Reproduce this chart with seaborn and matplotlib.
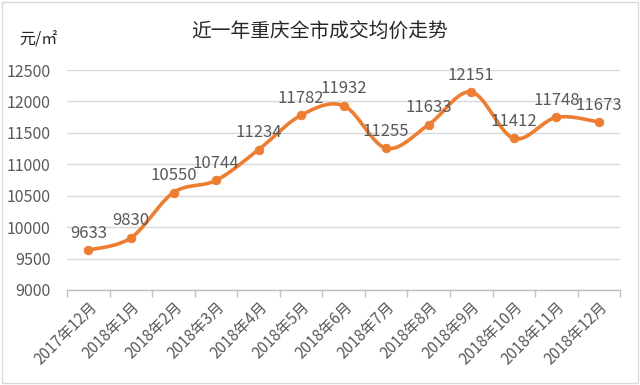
import numpy as np
import pandas as pd
import matplotlib.pyplot as plt
import seaborn as sns
from matplotlib.patches import Rectangle

months = ["2017年12月", "2018年1月", "2018年2月", "2018年3月", "2018年4月",
          "2018年5月", "2018年6月", "2018年7月", "2018年8月", "2018年9月",
          "2018年10月", "2018年11月", "2018年12月"]
prices = [9633, 9830, 10550, 10744, 11234, 11782, 11932,
          11255, 11633, 12151, 11412, 11748, 11673]
y_ticks = [9000, 9500, 10000, 10500, 11000, 11500, 12000, 12500]

ORANGE = "#ED7D31"
TEXT = "#595959"


def smooth_curve(xs, ys, steps=20):
    # Catmull-Rom style smoothing, like Excel's "smoothed line"
    xs = np.asarray(xs, float)
    ys = np.asarray(ys, float)
    px = np.concatenate([[xs[0]], xs, [xs[-1]]])
    py = np.concatenate([[ys[0]], ys, [ys[-1]]])
    out_x, out_y = [], []
    t = np.linspace(0, 1, steps, endpoint=False)
    for i in range(1, len(px) - 2):
        p0, p1, p2, p3 = [np.array([px[j], py[j]]) for j in (i - 1, i, i + 1, i + 2)]
        c1 = p1 + (p2 - p0) / 6
        c2 = p2 - (p3 - p1) / 6
        b = ((1 - t) ** 3)[:, None] * p1 + (3 * (1 - t) ** 2 * t)[:, None] * c1 \
            + (3 * (1 - t) * t ** 2)[:, None] * c2 + (t ** 3)[:, None] * p2
        out_x.extend(b[:, 0])
        out_y.extend(b[:, 1])
    out_x.append(xs[-1])
    out_y.append(ys[-1])
    return np.array(out_x), np.array(out_y)


sns.set_theme(style="white")
plt.rcParams["font.family"] = ["Noto Sans CJK SC", "DejaVu Sans"]

df = pd.DataFrame({"pos": np.arange(len(months)), "price": prices})
sx, sy = smooth_curve(df["pos"], df["price"])
curve = pd.DataFrame({"x": sx, "y": sy})

fig = plt.figure(figsize=(6.4, 3.85), dpi=100)
ax = fig.add_axes([0.105, 0.247, 0.864, 0.571])

for yt in y_ticks:
    ax.axhline(yt, color="#D9D9D9", linewidth=1, zorder=0)

sns.lineplot(data=curve, x="x", y="y", ax=ax, color=ORANGE, linewidth=2.6,
             sort=False, estimator=None, zorder=2)
sns.scatterplot(data=df, x="pos", y="price", ax=ax, color=ORANGE, s=40,
                edgecolor=ORANGE, zorder=3)

for x, y in zip(df["pos"], df["price"]):
    ax.annotate(str(y), (x, y), xytext=(0, 6), textcoords="offset points",
                ha="center", va="bottom", fontsize=12, color=TEXT)

ax.set_xlim(-0.5, len(months) - 0.5)
ax.set_ylim(9000, 12500)
ax.set_yticks(y_ticks)
ax.set_yticklabels([str(v) for v in y_ticks], fontsize=11.5, color=TEXT)
ax.set_xticks(df["pos"])
ax.set_xticklabels(months, rotation=45, ha="right", rotation_mode="anchor",
                   fontsize=11, color=TEXT)
ax.set_xticks(np.arange(-0.5, len(months)), minor=True)
ax.tick_params(axis="x", which="major", length=0, pad=6)
ax.tick_params(axis="x", which="minor", length=5, color="#BFBFBF", width=1,
               bottom=True)
ax.tick_params(axis="y", length=0, pad=12)
ax.set_xlabel("")
ax.set_ylabel("")

sns.despine(ax=ax, left=True)
ax.spines["bottom"].set_color("#BFBFBF")
ax.spines["bottom"].set_linewidth(1)

fig.text(0.5, 0.915, "近一年重庆全市成交均价走势", ha="center", va="center",
         fontsize=14.2, color="#262626")
fig.text(0.03, 0.895, "元/㎡", ha="left", va="center", fontsize=11.5, color="#262626")

fig.patches.append(Rectangle((0.003, 0.004), 0.994, 0.99, transform=fig.transFigure,
                             fill=False, edgecolor="#D9D9D9", linewidth=1))

fig.savefig("out.png", dpi=100)
